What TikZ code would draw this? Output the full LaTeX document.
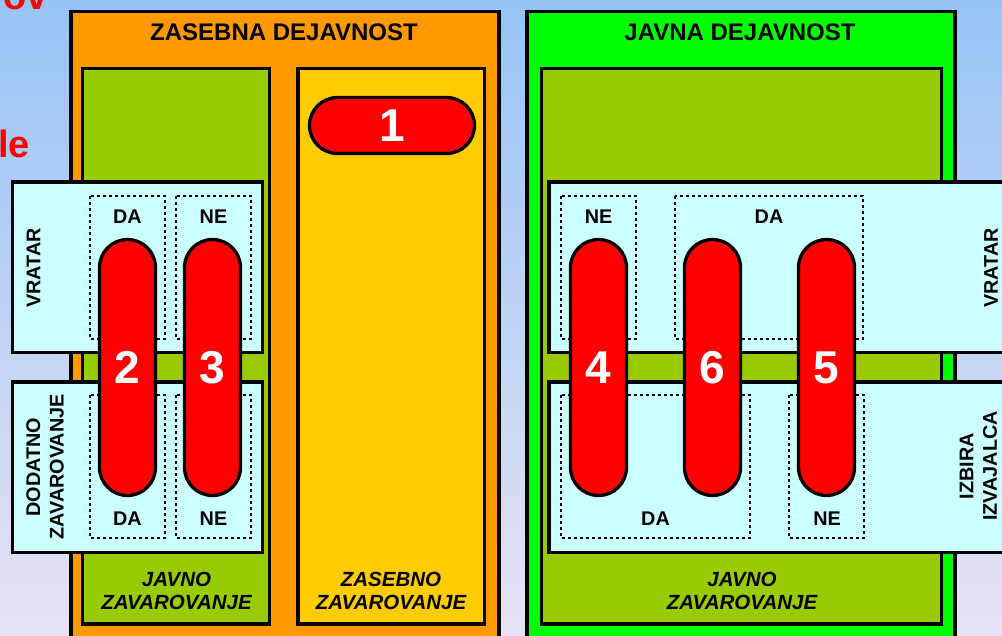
\documentclass[tikz,border=0pt]{standalone}
\usepackage{fontspec}
\setmainfont{Liberation Sans}
\definecolor{bgtop}{RGB}{150,196,245}
\definecolor{bgbot}{RGB}{232,226,244}
\definecolor{orangebox}{RGB}{255,153,0}
\definecolor{olivebox}{RGB}{153,204,0}
\definecolor{yellowbox}{RGB}{255,204,0}
\definecolor{greenbox}{RGB}{0,255,0}
\definecolor{cyanbox}{RGB}{204,255,255}
\definecolor{redpill}{RGB}{255,0,0}
\tikzset{
  box/.style={draw=black, line width=3.4pt},
  dbox/.style={draw=black, line width=1.6pt, dash pattern=on 3pt off 3pt},
  pill/.style={draw=black, line width=3.3pt, fill=redpill, rounded corners=28pt,
    minimum width=56pt, minimum height=256pt, inner sep=0pt,
    text=white, font=\fontsize{46}{46}\selectfont\bfseries},
  head/.style={font=\fontsize{24}{28}\selectfont\bfseries, inner sep=0pt},
  lab/.style={font=\fontsize{19.8}{23.5}\selectfont\bfseries, inner sep=0pt, align=center},
  ilab/.style={font=\fontsize{20.5}{23}\selectfont\bfseries\itshape, inner sep=0pt, align=center},
}
\begin{document}
\begin{tikzpicture}[x=1pt,y=-1pt]
\useasboundingbox (0,0) rectangle (1002,635);
\clip (0,0) rectangle (1002,635);
\shade[top color=bgtop, bottom color=bgbot] (0,0) rectangle (1002,635);
% partial red texts
\node[anchor=base east, text=redpill, inner sep=0pt, font=\fontsize{38}{38}\selectfont\bfseries] (ov) at (48,9) {ov};
\node[anchor=base east, text=redpill, inner sep=0pt, font=\fontsize{38}{38}\selectfont\bfseries] (le) at (30,157) {le};
% main boxes
\draw[box, fill=orangebox] (71,11.5) rectangle (499,670);
\draw[box, fill=greenbox] (527,11.5) rectangle (955,670);
\draw[box, fill=olivebox] (82.5,68.5) rectangle (269.5,624);
\draw[box, fill=yellowbox] (298,68.5) rectangle (484.5,624);
\draw[box, fill=olivebox] (541.5,68.5) rectangle (941.5,624);
% headers
\node[head] (h1) at (284,32.5) {ZASEBNA DEJAVNOST};
\node[head] (h2) at (740,32.5) {JAVNA DEJAVNOST};
% bottom labels
\node[ilab] (b1) at (176.5,591) {JAVNO\\ZAVAROVANJE};
\node[ilab] (b2) at (391,591) {ZASEBNO\\ZAVAROVANJE};
\node[ilab] (b3) at (742,591) {JAVNO\\ZAVAROVANJE};
% cyan boxes
\draw[box, fill=cyanbox] (12.5,182) rectangle (262.5,352.5);
\draw[box, fill=cyanbox] (12.5,382) rectangle (262.5,552.5);
\draw[box, fill=cyanbox] (549,182) rectangle (1012,352.5);
\draw[box, fill=cyanbox] (549,382) rectangle (1012,552.5);
% side labels
\node[lab, rotate=90] (v1) at (33.5,268) {VRATAR};
\node[lab, rotate=90] (d1) at (45,467) {DODATNO\\ZAVAROVANJE};
\node[lab, rotate=90] (v2) at (991,268) {VRATAR};
\node[lab, rotate=90] (i1) at (978.5,466) {IZBIRA\\IZVAJALCA};
% dashed boxes left
\draw[dbox] (90,196) rectangle (165,339);
\draw[dbox] (176,196) rectangle (251,339);
\draw[dbox] (90,395) rectangle (165,538);
\draw[dbox] (176,395) rectangle (251,538);
% dashed boxes right
\draw[dbox] (561,196) rectangle (636,339);
\draw[dbox] (675,196) rectangle (863,339);
\draw[dbox] (561,395) rectangle (750,538);
\draw[dbox] (789,395) rectangle (864,538);
% DA / NE labels
\node[lab] (l1) at (127.5,216.5) {DA};
\node[lab] (l2) at (213.5,216.5) {NE};
\node[lab] (l3) at (127.5,518.5) {DA};
\node[lab] (l4) at (213.5,518.5) {NE};
\node[lab] (l5) at (598.5,216.5) {NE};
\node[lab] (l6) at (769,216.5) {DA};
\node[lab] (l7) at (655.5,518.5) {DA};
\node[lab] (l8) at (827,518.5) {NE};
% pills
\node[pill, minimum width=165pt, minimum height=56pt] (p1) at (392,125.5) {1};
\node[pill] (p2) at (127.5,367.5) {2};
\node[pill] (p3) at (212.5,367.5) {3};
\node[pill] (p4) at (598.5,367.5) {4};
\node[pill] (p6) at (712.5,367.5) {6};
\node[pill] (p5) at (826.5,367.5) {5};
\end{tikzpicture}
\end{document}
